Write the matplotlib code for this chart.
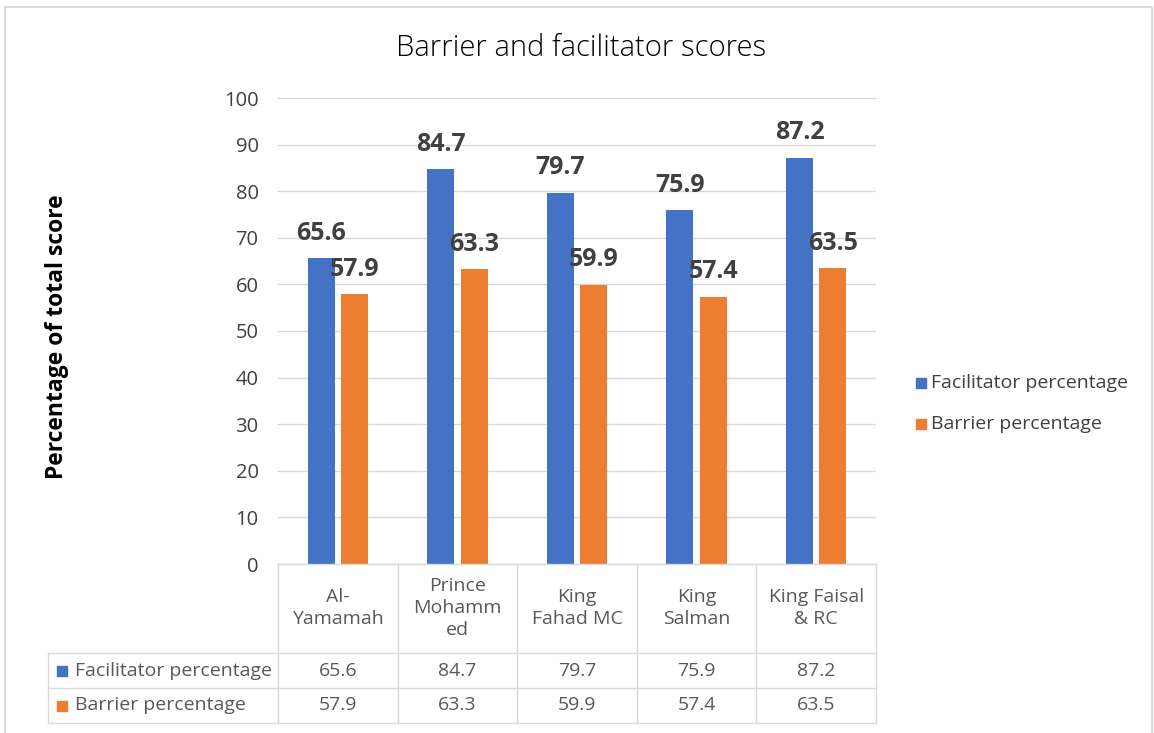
import numpy as np
import matplotlib
matplotlib.use("Agg")
import matplotlib.pyplot as plt

plt.rcParams['font.family'] = ['Open Sans', 'DejaVu Sans']

# data
hospitals = ['Al-\nYamamah', 'Prince\nMohamm\ned', 'King\nFahad MC', 'King\nSalman', 'King Faisal\n& RC']
series_names = ['Facilitator percentage', 'Barrier percentage']
facilitator = [65.6, 84.7, 79.7, 75.9, 87.2]
barrier = [57.9, 63.3, 59.9, 57.4, 63.5]
colors = ['#4472C4', '#ED7D31']

W, H = 1154, 733
fig = plt.figure(figsize=(W / 100, H / 100), dpi=100)

# plot area in pixels
L, R, T, B = 278, 876, 98, 564
ax = fig.add_axes([L / W, (H - B) / H, (R - L) / W, (B - T) / H])

x = np.arange(len(hospitals))
bw = 0.225
off = 0.14
for vals, c, d in [(facilitator, colors[0], -off), (barrier, colors[1], off)]:
    bars = ax.bar(x + d, vals, width=bw, color=c, zorder=3)
    for xi, v in zip(x + d, vals):
        ax.annotate(f'{v:.1f}', (xi, v), xytext=(0, 25), textcoords='offset pixels',
                    ha='center', va='center', fontsize=18, fontweight='bold',
                    color='#404040', zorder=4)

ax.set_xlim(-0.5, len(hospitals) - 0.5)
ax.set_ylim(0, 100)
ax.set_yticks(range(0, 101, 10))
ax.set_xticks([])
ax.tick_params(axis='y', length=0, pad=14, labelsize=14.5, labelcolor='#404040')
ax.grid(axis='y', color='#D9D9D9', lw=1, zorder=0)
for s in ax.spines.values():
    s.set_visible(False)

# overlay in pixel coordinates for title, table, legend
ov = fig.add_axes([0, 0, 1, 1])
ov.set_xlim(0, W)
ov.set_ylim(H, 0)
ov.axis('off')

# outer chart border
ov.plot([5, 5, 1152, 1152], [740, 7, 7, 740], color='#D9D9D9', lw=1.5)

ov.text(581, 48, 'Barrier and facilitator scores', ha='center', va='center',
        fontsize=21, fontweight='light', color='black')
ov.text(57, 337, 'Percentage of total score', rotation=90, ha='center', va='center',
        fontsize=16.5, fontweight='bold', color='black')

# data table
gc = '#D9D9D9'
tc = '#595959'
col_w = (R - L) / len(hospitals)
edges = [L + i * col_w for i in range(len(hospitals) + 1)]
rows_y = [B, 653, 688, 723]
ov.plot([L, R], [B, B], color=gc, lw=1)
for yy in rows_y[1:]:
    ov.plot([48, R], [yy, yy], color=gc, lw=1)
for e in edges:
    ov.plot([e, e], [B, 723], color=gc, lw=1)
ov.plot([48, 48], [653, 723], color=gc, lw=1)

for i, name in enumerate(hospitals):
    cx = (edges[i] + edges[i + 1]) / 2
    ov.text(cx, 608, name, ha='center', va='center', fontsize=14, color=tc,
            linespacing=1.3)
    for vals, ry in [(facilitator, 670.5), (barrier, 705.5)]:
        ov.text(cx, ry, f'{vals[i]:.1f}', ha='center', va='center', fontsize=14, color=tc)

for name, c, ry in zip(series_names, colors, [670.5, 705.5]):
    ov.scatter([62], [ry], marker='s', s=60, color=c)
    ov.text(75, ry, name, ha='left', va='center', fontsize=14, color=tc)

# legend
for name, c, ry in zip(series_names, colors, [383, 424]):
    ov.scatter([921], [ry], marker='s', s=55, color=c)
    ov.text(931, ry, name, ha='left', va='center', fontsize=14, color='#404040')

fig.savefig('out.png', dpi=100)
